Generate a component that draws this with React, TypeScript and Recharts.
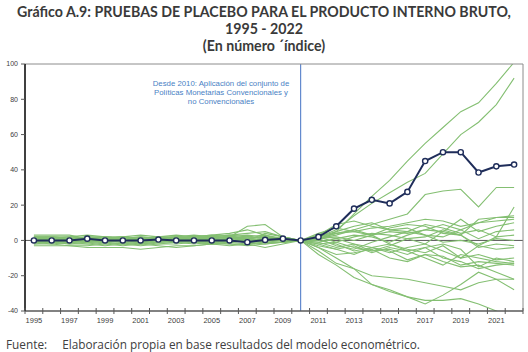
import { LineChart, Line, XAxis, YAxis, ReferenceLine } from "recharts";

const years = [
  1995, 1996, 1997, 1998, 1999, 2000, 2001, 2002, 2003, 2004, 2005, 2006, 2007, 2008,
  2009, 2010, 2011, 2012, 2013, 2014, 2015, 2016, 2017, 2018, 2019, 2020, 2021, 2022,
];

// PIB observado (índice)
const pib = [0, 0, 0, 1, 0, 0, 0, 0.5, 0, 0, 0, 0, -1, 0.3, 1, 0, 2, 8, 18, 23, 21, 27.5, 45, 50, 50, 38.5, 42, 43];

// placebos (pre 1995-2009, 2010 = 0, post 2011-2022)
const placebo1 = [2, 2, 1, 1, 0, 1, 2, 1, 2, 1, 2, 3, 2, 1, 1, 0, 0, 5, 15, 25, 34, 45, 55, 64, 73, 78, 89, 101];
const placebo2 = [-1, 0, 1, 0, -1, 0, 1, 2, 1, 0, 1, 2, 8, 9, 2, 0, 2, 6, 14, 21, 27, 33, 38, 49, 60, 67, 77, 92];
const placebo3 = [0, -1, -2, -1, 0, 1, 0, 1, 2, 2, 3, 4, 6, 3, 0, 0, 1, 3, 6, 9, 12, 15, 26, 28, 29, 19, 30, 30];
const placebo4 = [3, 3, 3, 1, 2, 2, 1, 0, 1, 2, 1, 2, 1, 0, 1, 0, 3, 9, 11, 8, 6, 5, 9, 7, 4, 6, 2, 19];
const placebo5 = [-2, -2, -3, -3, -2, -1, -2, -1, 0, 0, 1, 0, -1, -2, -1, 0, 2, 4, 5, 7, 8, 10, 12, 11, 8, 10, 13, 14];
const placebo6 = [1, 1, 2, 1, 0, 0, -1, 0, 1, 1, 0, 1, 2, 3, 1, 0, 4, 7, 5, 3, 7, 9, 8, 4, 3, 12, 13, 13];
const placebo7 = [-3, -3, -3, -4, -4, -4, -5, -4, -3, -3, -2, -2, -2, -1, -1, 0, 1, 2, 0, 3, 5, 4, 6, 9, 6, 10, 11, 12];
const placebo8 = [0, 1, 0, -1, 1, 2, 1, 2, 3, 2, 2, 1, 0, 4, 2, 0, -1, 1, 3, 2, -1, 3, 6, 5, 12, 5, 8, 10];
const placebo9 = [2, 1, 0, 0, -1, -2, -2, -1, -1, 0, 0, -1, 1, 2, 0, 0, 2, 5, 8, 10, 6, 7, 3, 2, 6, 1, 5, 6];
const placebo10 = [-1, -1, 0, 1, 1, 0, 0, 1, 1, 0, -1, -1, 0, 1, 0, 0, -2, -1, 2, 4, 3, 1, -2, 5, 3, -3, 2, 3];
const placebo11 = [1, 0, -1, -1, -1, -2, -3, -2, -2, -1, -1, -2, -3, -2, -1, 0, 1, -3, -5, -1, 2, 5, 3, -1, 0, -2, 1, 0];
const placebo12 = [0, 0, 1, 2, 2, 1, 1, 2, 2, 3, 2, 3, 4, 5, 2, 0, -1, -4, -2, -6, -3, 1, 2, 6, 3, -4, -2, -3];
const placebo13 = [-1, -2, -1, 0, 0, 1, 0, 0, -1, -1, -2, -1, -2, -4, -2, 0, 3, 1, -2, -4, -7, -4, -2, -6, -10, -3, -5, -4];
const placebo14 = [2, 2, 2, 3, 2, 1, 0, -1, 0, 1, 1, 0, 0, -1, 0, 0, -3, -5, -8, -4, -2, -5, -7, -3, -10, -8, -11, -10];
const placebo15 = [0, 0, -1, 0, 1, 1, 2, 1, 0, -1, 0, 1, 2, 1, 0, 0, 2, -1, -4, -6, -5, -8, -4, -2, -5, -15, -10, -12];
const placebo16 = [-2, -1, 0, -1, -2, -3, -2, -3, -4, -3, -2, -3, -2, -1, -1, 0, -2, -5, -3, -7, -4, -6, -10, -14, -8, -10, -12, -13];
const placebo17 = [1, 2, 1, 0, 1, 2, 3, 2, 1, 2, 3, 2, 1, 0, 1, 0, 0, -2, -6, -4, -6, -11, -8, -9, -14, -12, -13, -14];
const placebo18 = [-1, 0, 0, 1, 0, -1, -1, 0, 1, 0, -1, 0, 1, 2, 1, 0, -4, -8, -7, -5, -10, -12, -8, -12, -15, -14, -18, -22];
const placebo19 = [0, -1, -1, -2, -1, 0, 1, 0, -1, -2, -1, 0, -1, 0, 0, 0, -6, -13, -16, -20, -21, -22, -24, -26, -28, -24, -22, -28];
const placebo20 = [1, 1, 0, -1, 0, 0, -1, -2, -1, 0, 1, 2, 3, 2, 1, 0, -8, -14, -21, -25, -29, -32, -36, -31, -25, -18, -22, -22];
const placebo21 = [-1, -1, -2, -2, -3, -2, -1, -1, 0, -1, -2, -1, 0, -1, -1, 0, -4, -10, -16, -25, -28, -32, -34, -34, -33, -36, -40, -44];
const placebo22 = [0, 1, 1, 2, 1, 0, 1, 1, 0, 1, 2, 1, 1, 0, 0, 0, 1, 4, 6, 3, -2, -6, -4, -10, -12, -16, -14, -13];

const placebos = [
  placebo1, placebo2, placebo3, placebo4, placebo5, placebo6, placebo7, placebo8,
  placebo9, placebo10, placebo11, placebo12, placebo13, placebo14, placebo15, placebo16,
  placebo17, placebo18, placebo19, placebo20, placebo21, placebo22,
];

const yTicks = [-40, -20, 0, 20, 40, 60, 80, 100];

const data = years.map((year, i) => {
  const row: Record<string, number> = { year, pib: pib[i] };
  placebos.forEach((p, k) => {
    row["p" + k] = p[i];
  });
  return row;
});

const W = 528;
const H = 352;
// plot area: x 25..523, y 64..311 (axes take 1px each on left/right/top)
const M = { top: 63, right: 4, bottom: 21, left: 24 };
const STEP = (W - M.left - M.right - 2) / years.length;

const XTick = (props: any) => {
  const { x, y, payload, index } = props;
  const half = STEP / 2;
  const showLabel = payload.value % 2 === 1;
  return (
    <g>
      <line x1={x - half} x2={x - half} y1={y - 3} y2={y + 3} stroke="#595959" strokeWidth={1} />
      {index === years.length - 1 && (
        <line x1={x + half} x2={x + half} y1={y - 3} y2={y + 3} stroke="#595959" strokeWidth={1} />
      )}
      {showLabel && (
        <text x={x} y={y + 12} textAnchor="middle" fontSize={7.5} fill="#404040" fontFamily="Arial, Liberation Sans, sans-serif">
          {payload.value}
        </text>
      )}
    </g>
  );
};

export default function App() {
  return (
    <div style={{ position: "relative", width: W, height: H, background: "#fff", fontFamily: "'Open Sans', sans-serif" }}>
      <style>{"body{margin:0}"}</style>
      <div
        style={{
          position: "absolute",
          top: 2.5,
          left: 0,
          width: W,
          textAlign: "center",
          fontWeight: 700,
          fontSize: 14.2,
          lineHeight: "17px",
          color: "#3a3a3a",
          whiteSpace: "nowrap",
          fontFamily: "Lato, sans-serif",
        }}
      >
        <div>Gráfico A.9: PRUEBAS DE PLACEBO PARA EL PRODUCTO INTERNO BRUTO,</div>
        <div>1995 - 2022</div>
        <div>(En número ´índice)</div>
      </div>

      <div style={{ position: "absolute", top: 0, left: 0 }}>
        <LineChart width={W} height={H} data={data} margin={M}>
          <XAxis
            dataKey="year"
            type="category"
            interval={0}
            padding={{ left: STEP / 2, right: STEP / 2 }}
            height={20}
            tickSize={0}
            tickMargin={0}
            tickLine={false}
            axisLine={{ stroke: "#595959", strokeWidth: 1.5 }}
            tick={(p: any) => <XTick {...p} />}
          />
          <XAxis
            xAxisId="top"
            dataKey="year"
            orientation="top"
            height={1}
            tick={false}
            tickLine={false}
            axisLine={{ stroke: "#8c8c8c", strokeWidth: 1 }}
          />
          <YAxis
            domain={[-40, 100]}
            ticks={yTicks}
            allowDataOverflow
            width={1}
            tickSize={4}
            tickMargin={3}
            interval={0}
            axisLine={{ stroke: "#000", strokeWidth: 1.5 }}
            tickLine={{ stroke: "#595959" }}
            tick={{ fontSize: 7, fill: "#404040", fontFamily: "Arial, Liberation Sans, sans-serif" }}
          />
          <YAxis
            yAxisId="right"
            orientation="right"
            domain={[-40, 100]}
            width={1}
            tick={false}
            tickLine={false}
            axisLine={{ stroke: "#8c8c8c", strokeWidth: 1 }}
          />
          <ReferenceLine y={0} stroke="#595959" strokeWidth={1} />
          <ReferenceLine x={2010} stroke="#4472c4" strokeWidth={1} />
          {placebos.map((_, k) => (
            <Line
              key={k}
              dataKey={"p" + k}
              type="linear"
              stroke="#84bf72"
              strokeWidth={1.1}
              dot={false}
              isAnimationActive={false}
            />
          ))}
          <Line
            dataKey="pib"
            type="linear"
            stroke="#1f2d5a"
            strokeWidth={2}
            dot={{ r: 2.6, fill: "#fff", stroke: "#1f2d5a", strokeWidth: 1.4 }}
            isAnimationActive={false}
          />
        </LineChart>
      </div>

      <div
        style={{
          position: "absolute",
          top: 80,
          left: 146,
          width: 150,
          textAlign: "center",
          fontSize: 7.8,
          lineHeight: "8.8px",
          color: "#4a7fc4",
          fontFamily: "Arial, 'Liberation Sans', sans-serif",
          whiteSpace: "nowrap",
        }}
      >
        Desde 2010: Aplicación del conjunto de
        <br />
        Políticas Monetarias Convencionales y
        <br />
        no Convencionales
      </div>

      <div
        style={{
          position: "absolute",
          top: 336,
          left: 6,
          fontSize: 11.8,
          lineHeight: "16px",
          color: "#404040",
          whiteSpace: "nowrap",
        }}
      >
        <span>Fuente:</span>
        <span style={{ marginLeft: 15 }}>Elaboración propia en base resultados del modelo econométrico.</span>
      </div>
    </div>
  );
}
